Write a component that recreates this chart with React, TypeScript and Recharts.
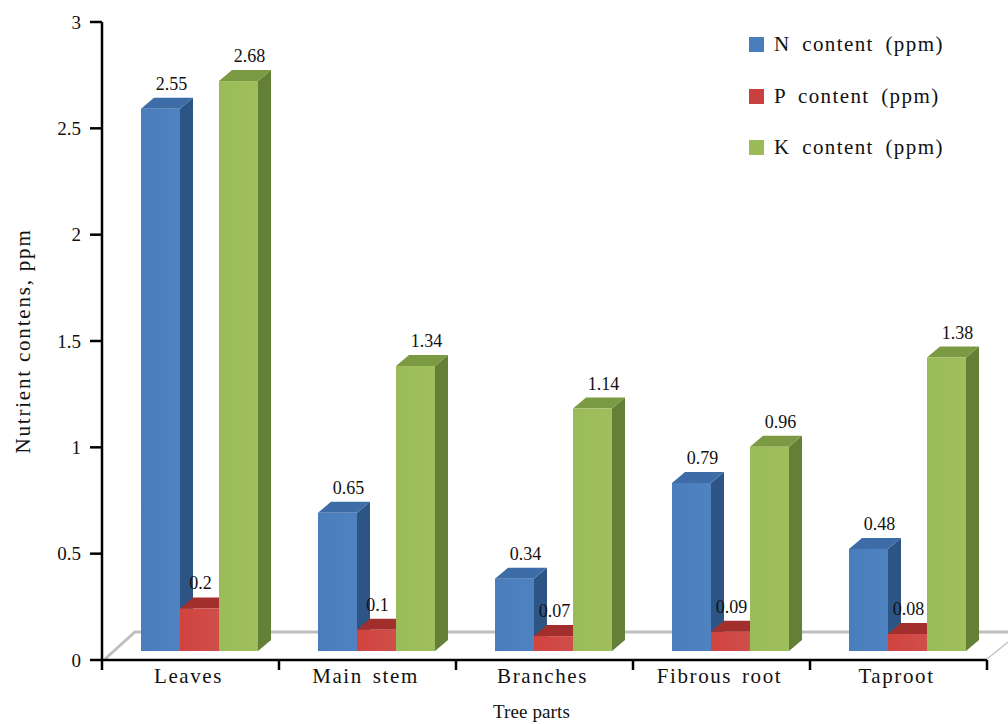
import { BarChart, Bar, XAxis, YAxis, Legend, LabelList, Label, Customized } from 'recharts'

const CATEGORIES = ['Leaves', 'Main stem', 'Branches', 'Fibrous root', 'Taproot']
const N_VALUES = [2.55, 0.65, 0.34, 0.79, 0.48]
const P_VALUES = [0.2, 0.1, 0.07, 0.09, 0.08]
const K_VALUES = [2.68, 1.34, 1.14, 0.96, 1.38]
const Y_TICKS = [0, 0.5, 1, 1.5, 2, 2.5, 3]

const DATA = CATEGORIES.map((part, i) => ({ part, n: N_VALUES[i], p: P_VALUES[i], k: K_VALUES[i] }))

const SERIF = '"Liberation Serif", serif'
const LEFT = 102
const TOP = 22
const RIGHT = 987
const BOTTOM = 660

// fake 3d extrusion of each column
const DX = 13
const DY = 11
const SHIFT_X = 9.5
const SHIFT_Y = -9

const makeBar = (id: string, top: string, side: string) => (props: any) => {
  const x = props.x + SHIFT_X
  const y = props.y + SHIFT_Y
  const w = props.width
  const h = props.height
  return (
    <g>
      <path d={`M${x + w} ${y} L${x + w + DX} ${y - DY} L${x + w + DX} ${y + h - DY} L${x + w} ${y + h} Z`} fill={side} />
      <path d={`M${x} ${y} L${x + DX} ${y - DY} L${x + w + DX} ${y - DY} L${x + w} ${y} Z`} fill={top} />
      <rect x={x} y={y} width={w} height={h} fill={`url(#${id})`} />
    </g>
  )
}

const makeLabel = (dx: number) => (props: any) => (
  <text
    x={props.x + props.width / 2 + SHIFT_X + dx}
    y={props.y + SHIFT_Y - 19}
    textAnchor="middle"
    fontFamily={SERIF}
    fontSize={18}
    fill="#111"
  >
    {props.value}
  </text>
)

function Floor() {
  const band = (RIGHT - LEFT) / CATEGORIES.length
  return (
    <g>
      <path d={`M105 ${BOTTOM - 1} L135 632 L1008 632`} fill="none" stroke="#bfbfbf" strokeWidth={3} />
      <path d={`M${RIGHT} ${BOTTOM - 1} L1008 642`} fill="none" stroke="#c4c4c4" strokeWidth={1.5} />
      {[0, 1, 2, 3, 4, 5].map(i => (
        <line key={i} x1={LEFT + band * i} x2={LEFT + band * i} y1={BOTTOM} y2={BOTTOM + 10} stroke="#000" strokeWidth={2.5} />
      ))}
    </g>
  )
}

function LegendBox({ payload }: any) {
  return (
    <div>
      {(payload || []).map((entry: any) => (
        <div key={entry.value} style={{ display: 'flex', alignItems: 'center', height: 51.5 }}>
          <span style={{ width: 15, height: 15, background: entry.color, marginRight: 10 }} />
          <span style={{ fontFamily: SERIF, fontSize: 21, letterSpacing: 1.4, wordSpacing: 5, color: '#111', whiteSpace: 'nowrap' }}>
            {entry.value}
          </span>
        </div>
      ))}
    </div>
  )
}

export default function App() {
  return (
    <div style={{ position: 'absolute', left: 0, top: 0, width: 1008, height: 724, background: '#fff' }}>
      <BarChart
        width={1008}
        height={724}
        data={DATA}
        margin={{ top: TOP, right: 1008 - RIGHT, bottom: 0, left: 0 }}
        barCategoryGap="16.67%"
        barGap={0}
      >
        <defs>
          <linearGradient id="gradN" x1="0" x2="1" y1="0" y2="0">
            <stop offset="0" stopColor="#4a7dbc" />
            <stop offset="1" stopColor="#4f82c0" />
          </linearGradient>
          <linearGradient id="gradP" x1="0" x2="1" y1="0" y2="0">
            <stop offset="0" stopColor="#d2433f" />
            <stop offset="1" stopColor="#cf4f4a" />
          </linearGradient>
          <linearGradient id="gradK" x1="0" x2="1" y1="0" y2="0">
            <stop offset="0" stopColor="#9bbb59" />
            <stop offset="1" stopColor="#a0bf5c" />
          </linearGradient>
        </defs>
        <Customized component={<Floor />} />
        <XAxis
          dataKey="part"
          height={724 - BOTTOM}
          tickLine={false}
          tickMargin={2}
          axisLine={{ stroke: '#000', strokeWidth: 2.5 }}
          tick={{ fontFamily: SERIF, fontSize: 21, letterSpacing: 1.6, wordSpacing: 3, fill: '#111', dx: -2 }}
        >
          <Label value="Tree parts" position="insideBottom" offset={6} dx={-13} style={{ fontFamily: SERIF, fontSize: 19, letterSpacing: 0.1, fill: '#111' }} />
        </XAxis>
        <YAxis
          type="number"
          domain={[0, 3]}
          ticks={Y_TICKS}
          width={LEFT}
          tickSize={12}
          tickMargin={9}
          interval={0}
          axisLine={{ stroke: '#000', strokeWidth: 2.5 }}
          tickLine={{ stroke: '#000', strokeWidth: 2.5 }}
          tick={{ fontFamily: SERIF, fontSize: 19, fill: '#111' }}
        >
          <Label
            value="Nutrient contens, ppm"
            angle={-90}
            position="insideLeft"
            offset={23}
            style={{ textAnchor: 'middle', fontFamily: SERIF, fontSize: 21, letterSpacing: 1.8, fill: '#111' }}
          />
        </YAxis>
        <Legend
          layout="vertical"
          verticalAlign="middle"
          align="center"
          itemSorter={null}
          wrapperStyle={{ position: 'absolute', left: 749, top: 19, width: 240 }}
          content={<LegendBox />}
        />
        <Bar dataKey="n" name="N content (ppm)" fill="#4a7dbc" shape={makeBar('gradN', '#3d6ca6', '#2c5585')} isAnimationActive={false}>
          <LabelList dataKey="n" content={makeLabel(11)} />
        </Bar>
        <Bar dataKey="p" name="P content (ppm)" fill="#c9413e" shape={makeBar('gradP', '#a32f2c', '#8a2825')} isAnimationActive={false}>
          <LabelList dataKey="p" content={makeLabel(1)} />
        </Bar>
        <Bar dataKey="k" name="K content (ppm)" fill="#9bbb59" shape={makeBar('gradK', '#7c9a44', '#647f36')} isAnimationActive={false}>
          <LabelList dataKey="k" content={makeLabel(11)} />
        </Bar>
      </BarChart>
    </div>
  )
}
